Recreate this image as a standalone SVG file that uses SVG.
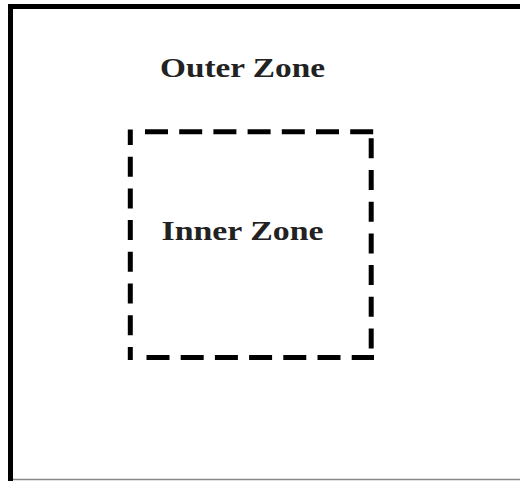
<svg xmlns="http://www.w3.org/2000/svg" width="520" height="481" viewBox="0 0 520 481">
  <style>
    .zone-label { font-family: "Liberation Serif", "Times New Roman", serif; font-weight: bold; font-size: 27px; fill: #222; text-anchor: middle; }
    .outer { fill: none; stroke: #000; stroke-width: 5; }
    .dash-h { stroke: #000; stroke-width: 5; stroke-dasharray: 23 11.2; fill: none; }
    .dash-v { stroke: #000; stroke-width: 5; stroke-dasharray: 20 11.7; fill: none; }
  </style>
  <rect width="520" height="481" fill="#fff"/>
  <g id="outer-zone">
    <rect class="outer" x="10.5" y="6.5" width="600" height="600"/>
    <line x1="13" y1="479.5" x2="520" y2="479.5" stroke="#888" stroke-width="1.5"/>
    <text class="zone-label" x="242.5" y="76.5" textLength="165" lengthAdjust="spacingAndGlyphs">Outer Zone</text>
  </g>
  <g id="inner-zone">
    <line class="dash-h" x1="145" y1="131.8" x2="374" y2="131.8"/>
    <line class="dash-h" x1="146.5" y1="357.5" x2="374" y2="357.5"/>
    <line class="dash-v" x1="130.3" y1="129.5" x2="130.3" y2="360" stroke-dashoffset="4.5"/>
    <line class="dash-v" x1="371.2" y1="138.3" x2="371.2" y2="350"/>
    <text class="zone-label" x="242.5" y="240" textLength="162" lengthAdjust="spacingAndGlyphs">Inner Zone</text>
  </g>
  <g id="connectors"/>
</svg>
